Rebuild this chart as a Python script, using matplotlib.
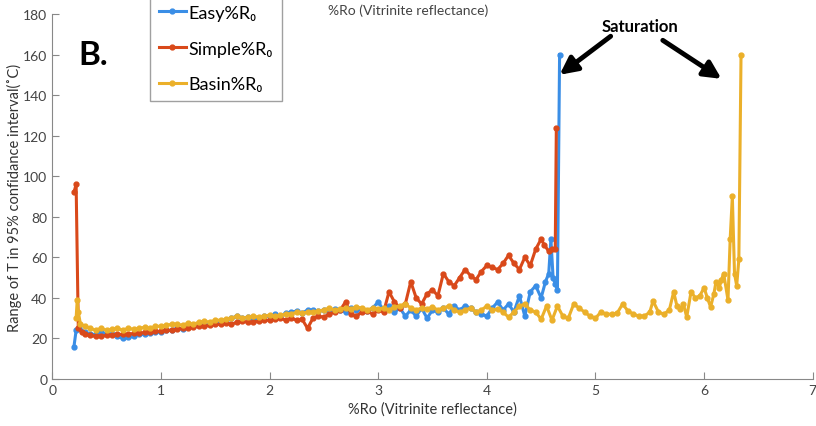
import matplotlib.pyplot as plt

plt.rcParams['font.family'] = ['Lato', 'DejaVu Sans']

# Easy%Ro
easy_x = [0.20, 0.22, 0.25, 0.30, 0.35, 0.40, 0.45, 0.50, 0.55, 0.60, 0.65, 0.70, 0.75, 0.80,
          0.85, 0.90, 0.95, 1.00, 1.05, 1.10, 1.15, 1.20, 1.25, 1.30, 1.35, 1.40, 1.45, 1.50,
          1.55, 1.60, 1.65, 1.70, 1.75, 1.80, 1.85, 1.90, 1.95, 2.00, 2.05, 2.10, 2.15, 2.20,
          2.25, 2.30, 2.35, 2.40, 2.45, 2.50, 2.55, 2.60, 2.65, 2.70, 2.75, 2.80, 2.85, 2.90,
          2.95, 3.00, 3.05, 3.10, 3.15, 3.20, 3.25, 3.30, 3.35, 3.40, 3.45, 3.50, 3.55, 3.60,
          3.65, 3.70, 3.75, 3.80, 3.85, 3.90, 3.95, 4.00, 4.05, 4.10, 4.15, 4.20, 4.25, 4.30,
          4.35, 4.40, 4.45, 4.50, 4.54, 4.57, 4.59, 4.61, 4.63, 4.65, 4.67]
easy_y = [16, 24, 25, 23, 22, 22, 23, 22, 22, 21, 20, 20.5, 21, 22,
          22, 22.5, 23, 23, 24, 24, 25, 24.5, 26, 26, 26.5, 27, 27, 27.5,
          28, 29, 30, 31, 30, 30.5, 29.5, 30, 31, 31, 32, 31, 32.5, 33,
          33.5, 32.5, 34, 34, 33.5, 34, 33, 34.5, 34, 33, 35, 34, 34.5, 33.5,
          35, 38, 34, 36, 33, 35, 31, 34, 31, 35, 30, 34, 33, 35,
          32, 36, 34, 36, 35, 33, 32, 31, 35, 38, 34, 37, 33, 41,
          31, 43, 46, 40, 48, 52, 69, 50, 47, 44, 160]

# Simple%Ro
simple_x = [0.20, 0.22, 0.24, 0.27, 0.30, 0.35, 0.40, 0.45, 0.50, 0.55, 0.60, 0.65, 0.70, 0.75,
            0.80, 0.85, 0.90, 0.95, 1.00, 1.05, 1.10, 1.15, 1.20, 1.25, 1.30, 1.35, 1.40, 1.45,
            1.50, 1.55, 1.60, 1.65, 1.70, 1.75, 1.80, 1.85, 1.90, 1.95, 2.00, 2.05, 2.10, 2.15,
            2.20, 2.25, 2.30, 2.35, 2.40, 2.45, 2.50, 2.55, 2.60, 2.65, 2.70, 2.75, 2.80, 2.85,
            2.90, 2.95, 3.00, 3.05, 3.10, 3.15, 3.20, 3.25, 3.30, 3.35, 3.40, 3.45, 3.50, 3.55,
            3.60, 3.65, 3.70, 3.75, 3.80, 3.85, 3.90, 3.95, 4.00, 4.05, 4.10, 4.15, 4.20, 4.25,
            4.30, 4.35, 4.40, 4.45, 4.50, 4.53, 4.57, 4.60, 4.63, 4.64]
simple_y = [92, 96, 25, 23, 22, 21.5, 21, 21, 21.5, 21.5, 22, 22, 22, 22.5,
            22.5, 23, 23, 23.5, 23.5, 24, 24, 24.5, 25, 25, 25.5, 26, 26, 26.5,
            27, 27, 27.5, 27, 28, 28.5, 28, 28, 28.5, 29, 29, 29.5, 30, 29,
            30, 29, 29.5, 25, 30, 31, 30.5, 32, 33, 34, 38, 32, 31, 33,
            33.5, 32, 34, 33, 43, 38, 35, 37, 48, 40, 37, 42, 44, 41,
            52, 48, 46, 50, 54, 51, 49, 53, 56, 55, 54, 57, 61, 57,
            54, 60, 56, 64, 69, 66, 63, 64, 64, 124]

# Basin%Ro
basin_x = [0.22, 0.23, 0.24, 0.26, 0.30, 0.35, 0.40, 0.45, 0.50, 0.55, 0.60, 0.65, 0.70, 0.75,
           0.80, 0.85, 0.90, 0.95, 1.00, 1.05, 1.10, 1.15, 1.20, 1.25, 1.30, 1.35, 1.40, 1.45,
           1.50, 1.55, 1.60, 1.65, 1.70, 1.75, 1.80, 1.85, 1.90, 1.95, 2.00, 2.05, 2.10, 2.15,
           2.20, 2.25, 2.30, 2.35, 2.40, 2.45, 2.50, 2.55, 2.60, 2.65, 2.70, 2.75, 2.80, 2.85,
           2.90, 2.95, 3.00, 3.05, 3.10, 3.15, 3.20, 3.25, 3.30, 3.35, 3.40, 3.45, 3.50, 3.55,
           3.60, 3.65, 3.70, 3.75, 3.80, 3.85, 3.90, 3.95, 4.00, 4.05, 4.10, 4.15, 4.20, 4.25,
           4.30, 4.35, 4.40, 4.45, 4.50, 4.55, 4.60, 4.65, 4.70, 4.75, 4.80, 4.85, 4.90, 4.95,
           5.00, 5.05, 5.10, 5.15, 5.20, 5.25, 5.30, 5.35, 5.40, 5.45, 5.50, 5.53, 5.58, 5.63,
           5.68, 5.72, 5.75, 5.78, 5.81, 5.84, 5.88, 5.92, 5.96, 6.00, 6.03, 6.06, 6.09, 6.11,
           6.14, 6.16, 6.18, 6.22, 6.24, 6.26, 6.28, 6.30, 6.32, 6.34]
basin_y = [30, 39, 33, 27, 26, 25, 24, 25, 24, 24.5, 25, 24, 25, 24.5,
           25, 25.5, 25, 26, 26, 26.5, 27, 27, 26.5, 27.5, 27, 28, 28.5, 28,
           29, 29, 29.5, 30, 31, 30, 30.5, 31, 30.5, 31, 31.5, 31, 31.5, 32,
           32, 33, 32.5, 33, 33, 33.5, 34, 35, 34, 34.5, 35, 34.5, 35.5, 35,
           34, 35, 34.5, 35, 34, 35.5, 36, 37, 35, 34, 35, 34.5, 35.5, 34,
           35, 36, 34, 33, 34, 35, 33, 34, 36, 34, 34.5, 33, 30.5, 33,
           36, 37, 34, 33, 29.5, 36, 29, 36, 31, 30, 37, 35, 33, 31,
           30, 33, 32, 32, 32.5, 37, 33.5, 32, 31, 31, 33, 38.5, 33, 32,
           34, 43, 36, 34.5, 37, 30.5, 43, 40, 41, 45, 40, 35.5, 42, 48,
           45, 49, 52, 39, 69, 90, 52, 46, 59, 160]

c_easy = '#3a8ee6'
c_simple = '#d9491a'
c_basin = '#ebb02a'

fig = plt.figure(figsize=(8.16, 4.27), dpi=100)
ax = fig.add_axes([0.064, 0.11, 0.932, 0.855])

ax.plot(easy_x, easy_y, '-o', color=c_easy, lw=2.2, ms=3.5, label='Easy%R₀')
ax.plot(simple_x, simple_y, '-o', color=c_simple, lw=2.2, ms=3.5, label='Simple%R₀')
ax.plot(basin_x, basin_y, '-o', color=c_basin, lw=2.2, ms=3.5, label='Basin%R₀')

ax.set_xlim(0, 7)
ax.set_ylim(0, 180)
ax.set_xticks(range(0, 8))
ax.set_yticks(range(0, 181, 20))
for s in ['top', 'right']:
    ax.spines[s].set_visible(False)
for s in ['left', 'bottom']:
    ax.spines[s].set_color('#888888')
ax.tick_params(direction='in', colors='#888888', labelcolor='#444444', labelsize=10, length=5)

ax.set_xlabel('%Ro (Vitrinite reflectance)', fontsize=10.5, color='#333333', labelpad=4)
ax.set_ylabel('Range of T in 95% confidance interval(˚C)', fontsize=10.5, color='#333333', labelpad=1)
fig.text(0.5, 0.975, '%Ro (Vitrinite reflectance)', ha='center', va='center', fontsize=10, color='#444444')

ax.text(0.24, 160, 'B.', fontsize=24, fontweight='bold', ha='left', va='center')

leg = ax.legend(loc='upper left', bbox_to_anchor=(0.128, 1.05), fontsize=13, frameon=True,
                fancybox=False, edgecolor='#888888', labelspacing=1.1, handlelength=1.5,
                handletextpad=0.15, borderpad=0.5, borderaxespad=0)
leg.get_frame().set_linewidth(1.0)

ax.text(5.41, 174, 'Saturation', fontsize=12, fontweight='bold', ha='center', va='center')
arrow = dict(arrowstyle='-|>', color='black', lw=3.5, mutation_scale=26, shrinkA=0, shrinkB=0)
ax.annotate('', xy=(4.67, 150), xytext=(5.14, 169), arrowprops=arrow)
ax.annotate('', xy=(6.16, 148), xytext=(5.62, 167), arrowprops=arrow)

fig.savefig('out.png', dpi=100)
